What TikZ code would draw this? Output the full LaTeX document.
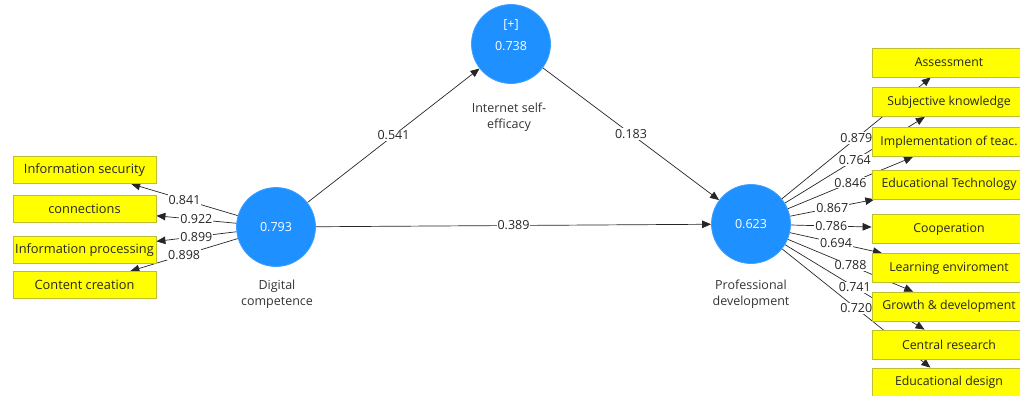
\documentclass[tikz,border=0pt]{standalone}
\usepackage{fontspec}
\setmainfont{Open Sans}
\usetikzlibrary{arrows.meta}
\pgfdeclarelayer{edges}
\pgfdeclarelayer{elabels}
\pgfsetlayers{edges,elabels,main}
\definecolor{lvblue}{RGB}{30,144,255}
\definecolor{indyel}{RGB}{255,255,0}
\definecolor{indborder}{RGB}{190,190,50}
\begin{document}
\begin{tikzpicture}[x=1pt,y=-1pt,
  lv/.style={circle, fill=lvblue, draw=lvblue!85!white, line width=0.8pt, minimum size=79pt, inner sep=0pt, text=white, font=\fontsize{12.5}{14}\selectfont},
  lvtext/.style={text=white, inner sep=0pt, font=\fontsize{12.5}{14}\selectfont},
  ind/.style={rectangle, fill=indyel, draw=indborder, line width=0.8pt, minimum height=27pt, minimum width=143pt, inner sep=0pt, font=\fontsize{12.8}{14}\selectfont, text=black!85},
  rind/.style={ind, minimum height=29pt, minimum width=154pt, font=\fontsize{12.3}{14}\selectfont},
  lvcap/.style={align=center, font=\fontsize{12.5}{16.5}\selectfont, text=black!80},
  lab/.style={fill=white, inner sep=1pt, font=\fontsize{12.5}{14}\selectfont, text=black!85},
  arr/.style={draw=black!85, line width=0.7pt, -{Triangle[length=9pt,width=7.5pt]}},
]
\useasboundingbox (0,0) rectangle (1020,396);
\clip (0,0) rectangle (1020,396);

% latent variables
\node[lv] (dc) at (276,227) {0.793};
\node[lv] (ise) at (511,44) {};
\node[lvtext] (iseplus) at (511,25) {[+]};
\node[lvtext] (iseval) at (511,46) {0.738};
\node[lv] (pd) at (751,224) {0.623};

\node[lvcap] (dccap) at (277,294) {Digital\\competence};
\node[lvcap] (isecap) at (509,117) {Internet self-\\efficacy};
\node[lvcap] (pdcap) at (751,294) {Professional\\development};

% left indicators
\node[ind] (is) at (84.5,170) {Information security};
\node[ind] (co) at (84.5,209) {connections};
\node[ind] (ip) at (84.5,250) {Information processing};
\node[ind] (cc) at (84.5,285) {Content creation};

% right indicators
\node[rind] (as) at (949,62.5) {Assessment};
\node[rind] (sk) at (949,102) {Subjective knowledge};
\node[rind] (it) at (949,142) {Implementation of teac.};
\node[rind] (et) at (949,184.5) {Educational Technology};
\node[rind] (cp) at (949,229) {Cooperation};
\node[rind] (le) at (949,268) {Learning enviroment};
\node[rind] (gd) at (949,306.5) {Growth \& development};
\node[rind] (cr) at (949,344.5) {Central research};
\node[rind] (ed) at (949,382.5) {Educational design};

\begin{pgfonlayer}{edges}
\draw[arr] (dc) -- (is) coordinate[pos=.5] (m1);
\draw[arr] (dc) -- (co) coordinate[pos=.5] (m2);
\draw[arr] (dc) -- (ip) coordinate[pos=.5] (m3);
\draw[arr] (dc) -- (cc) coordinate[pos=.5] (m4);
\draw[arr] (dc) -- (ise) coordinate[pos=.5] (m5);
\draw[arr] (ise) -- (pd) coordinate[pos=.5] (m6);
\draw[arr] (dc) -- (pd) coordinate[pos=.5] (m7);
\draw[arr] (pd) -- (as) coordinate[pos=.5] (r1);
\draw[arr] (pd) -- (sk) coordinate[pos=.5] (r2);
\draw[arr] (pd) -- (it) coordinate[pos=.5] (r3);
\draw[arr] (pd) -- (et) coordinate[pos=.5] (r4);
\draw[arr] (pd) -- (cp) coordinate[pos=.5] (r5);
\draw[arr] (pd) -- (le) coordinate[pos=.5] (r6);
\draw[arr] (pd) -- (gd) coordinate[pos=.5] (r7);
\draw[arr] (pd) -- (cr) coordinate[pos=.5] (r8);
\draw[arr] (pd) -- (ed) coordinate[pos=.5] (r9);
\end{pgfonlayer}

\begin{pgfonlayer}{elabels}
\node[lab] (lm1) at (m1) {0.841};
\node[lab] (lm2) at (m2) {0.922};
\node[lab] (lm3) at (m3) {0.899};
\node[lab] (lm4) at (m4) {0.898};
\node[lab] (lm5) at (m5) {0.541};
\node[lab] (lm6) at (m6) {0.183};
\node[lab] (lm7) at (m7) {0.389};
\node[lab] (lr1) at (r1) {0.879};
\node[lab] (lr2) at (r2) {0.764};
\node[lab] (lr3) at (r3) {0.846};
\node[lab] (lr4) at (r4) {0.867};
\node[lab] (lr5) at (r5) {0.786};
\node[lab] (lr6) at (r6) {0.694};
\node[lab] (lr7) at (r7) {0.788};
\node[lab] (lr8) at (r8) {0.741};
\node[lab] (lr9) at (r9) {0.720};
\end{pgfonlayer}
\end{tikzpicture}
\end{document}
